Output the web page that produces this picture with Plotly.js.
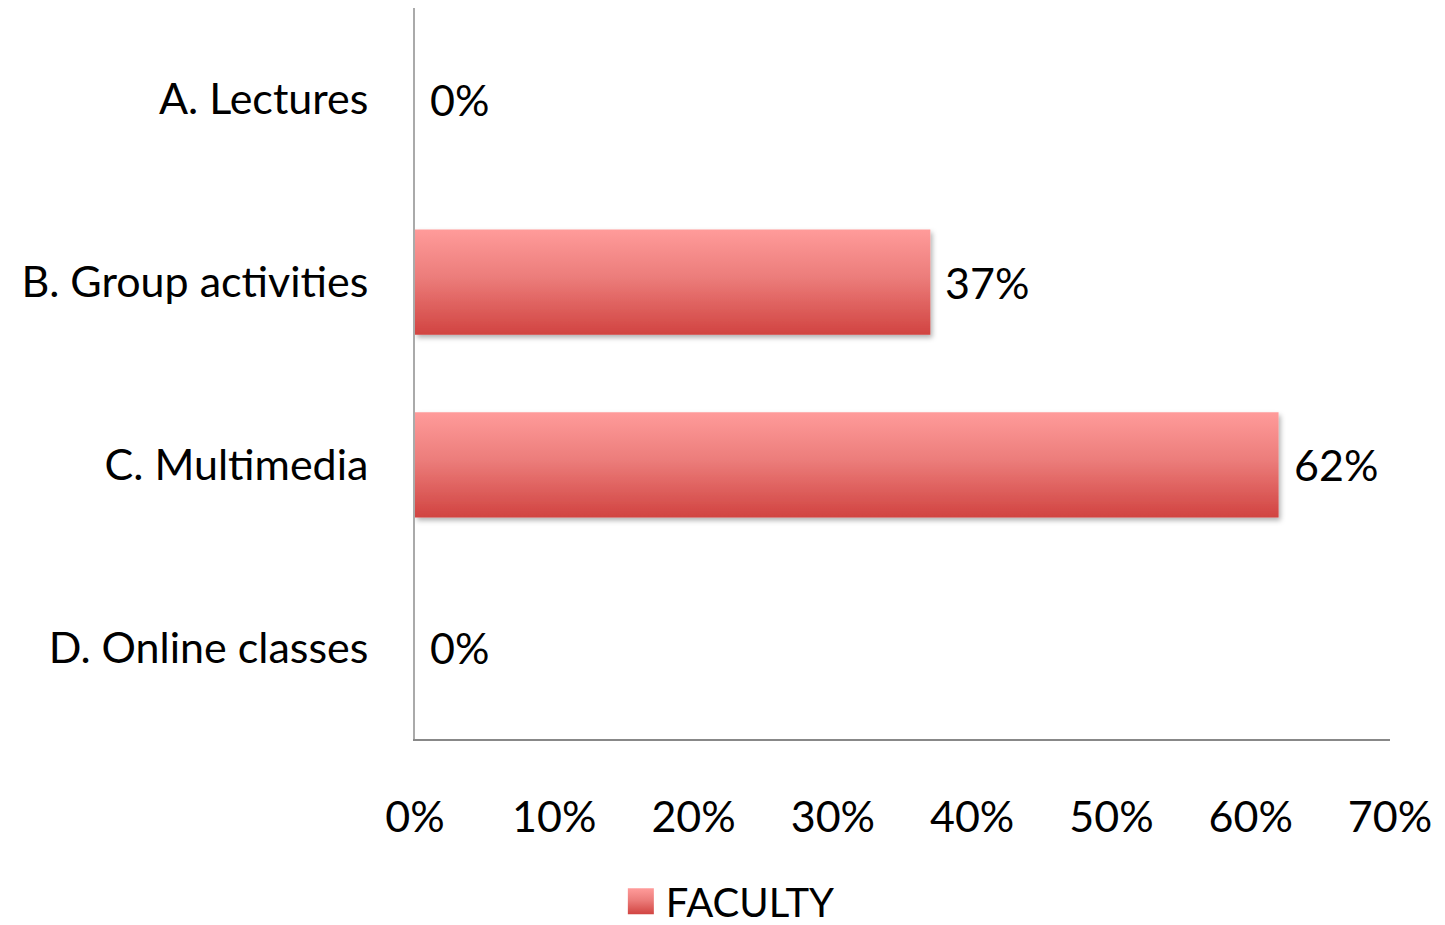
<!DOCTYPE html>
<html>
<head>
<meta charset="utf-8">
<script src="https://cdn.plot.ly/plotly-3.0.1.min.js"></script>
<style>html,body{margin:0;padding:0;background:#fff;}#chart{width:1445px;height:925px;}</style>
</head>
<body>
<div id="chart"></div>
<script>
const categories = ["A. Lectures", "B. Group activities", "C. Multimedia", "D. Online classes"];
const faculty = [0, 37, 62, 0];
const seriesName = "FACULTY";
const xTickVals = [0, 10, 20, 30, 40, 50, 60, 70];
const xTickText = ["0%", "10%", "20%", "30%", "40%", "50%", "60%", "70%"];

const FONT = "Lato, 'Open Sans', sans-serif";
const FS = 43;

const trace = {
  type: "bar",
  orientation: "h",
  y: categories,
  x: faculty,
  name: seriesName,
  marker: {color: "#E46A6A", line: {width: 0}},
  hoverinfo: "x+y"
};

const annotations = categories.map((c, i) => ({
  x: faculty[i], y: c, xref: "x", yref: "y",
  text: faculty[i] + "%",
  showarrow: false, xanchor: "left", yanchor: "middle",
  xshift: 13,
  font: {family: FONT, size: FS, color: "#000"}
}));

const layout = {
  width: 1445, height: 925,
  margin: {l: 415, r: 55, t: 8, b: 186, autoexpand: false},
  paper_bgcolor: "#fff", plot_bgcolor: "#fff",
  font: {family: FONT, size: FS, color: "#000"},
  bargap: 0.425,
  showlegend: true,
  legend: {orientation: "h", x: 0.326, xanchor: "center", y: -0.222, yanchor: "middle",
           font: {family: FONT, size: 40, color: "#000"}},
  xaxis: {
    range: [0, 70], tickvals: xTickVals, ticktext: xTickText,
    showgrid: false, zeroline: false, showline: true, linecolor: "#888", linewidth: 2,
    ticks: "", ticklabelstandoff: 39, fixedrange: true, automargin: false,
    tickfont: {family: FONT, size: FS, color: "#000"}
  },
  yaxis: {
    autorange: "reversed", type: "category",
    showgrid: false, zeroline: false, showline: true, linecolor: "#aaa", linewidth: 2,
    ticks: "", ticklabelstandoff: 36, fixedrange: true, automargin: false,
    tickfont: {family: FONT, size: FS, color: "#000"}
  },
  annotations: annotations
};

Plotly.newPlot("chart", [trace], layout, {displayModeBar: false, staticPlot: true}).then(gd => {
  const svg = gd.querySelector("svg.main-svg");
  const ns = "http://www.w3.org/2000/svg";
  let defs = svg.querySelector("defs");
  if (!defs) { defs = document.createElementNS(ns, "defs"); svg.insertBefore(defs, svg.firstChild); }
  const grad = document.createElementNS(ns, "linearGradient");
  grad.setAttribute("id", "barGrad");
  grad.setAttribute("x1", "0"); grad.setAttribute("y1", "0");
  grad.setAttribute("x2", "0"); grad.setAttribute("y2", "1");
  [["0", "#FF9B9A"], ["0.45", "#EC7D7B"], ["1", "#D14441"]].forEach(([o, c]) => {
    const s = document.createElementNS(ns, "stop");
    s.setAttribute("offset", o); s.setAttribute("stop-color", c);
    grad.appendChild(s);
  });
  defs.appendChild(grad);
  const filt = document.createElementNS(ns, "filter");
  filt.setAttribute("id", "barShadow");
  filt.setAttribute("x", "-5%"); filt.setAttribute("y", "-5%");
  filt.setAttribute("width", "115%"); filt.setAttribute("height", "125%");
  filt.innerHTML = '<feDropShadow dx="2" dy="3" stdDeviation="2.5" flood-color="#000" flood-opacity="0.3"/>';
  defs.appendChild(filt);
  gd.querySelectorAll(".barlayer .point path").forEach(p => {
    p.style.fill = "url(#barGrad)";
    p.setAttribute("filter", "url(#barShadow)");
  });
  gd.querySelectorAll(".legend .legendpoints path").forEach(p => {
    p.style.fill = "url(#barGrad)";
    p.setAttribute("d", "M8,13H-18V-13H8Z");
  });
});
</script>
</body>
</html>
